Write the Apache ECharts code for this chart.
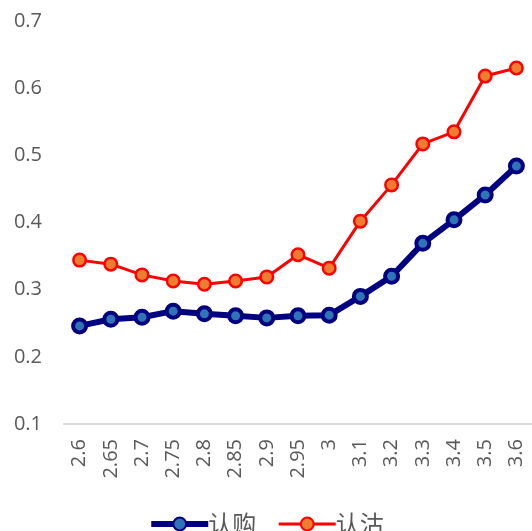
<!DOCTYPE html>
<html><head><meta charset="utf-8">
<script src="https://cdn.jsdelivr.net/npm/echarts@6/dist/echarts.min.js"></script>
<style>html,body{margin:0;padding:0;background:#fff}#c{width:532px;height:531px}</style>
</head><body><div id="c"></div>
<script>
var categories = ['2.6','2.65','2.7','2.75','2.8','2.85','2.9','2.95','3','3.1','3.2','3.3','3.4','3.5','3.6'];
var callValues = [0.246,0.256,0.259,0.268,0.264,0.261,0.258,0.261,0.262,0.290,0.320,0.369,0.404,0.441,0.484];
var putValues  = [0.344,0.338,0.322,0.313,0.308,0.313,0.319,0.352,0.332,0.402,0.456,0.517,0.535,0.618,0.630];
var seriesNames = ['认购','认沽'];

var chart = echarts.init(document.getElementById('c'));
chart.setOption({
  animation: false,
  backgroundColor: '#fff',
  grid: {left: 64, right: 0, top: 21, bottom: 107, containLabel: false},
  legend: {
    top: 512, left: 'center', padding: 0,
    itemWidth: 57, itemHeight: 16, itemGap: 21,
    textStyle: {fontSize: 24, lineHeight: 8, color: '#595959', fontFamily: 'Noto Sans CJK SC', padding: [0,0,6,-5]},
    data: [
      {name: seriesNames[0], lineStyle: {width: 6}},
      {name: seriesNames[1], lineStyle: {width: 3}}
    ]
  },
  xAxis: {
    type: 'category', data: categories, boundaryGap: true,
    axisLine: {lineStyle: {color: '#d9d9d9', width: 2}},
    axisTick: {show: false},
    axisLabel: {rotate: 90, fontSize: 20, color: '#595959', margin: 15, fontFamily: 'Open Sans', interval: 0}
  },
  yAxis: {
    type: 'value', min: 0.1, max: 0.7, interval: 0.1,
    axisLine: {show: false}, axisTick: {show: false}, splitLine: {show: false},
    axisLabel: {fontSize: 20, color: '#595959', margin: 22, fontFamily: 'Open Sans',
      formatter: function(v){ return (Math.round(v*10)/10).toString(); }}
  },
  series: [
    {name: seriesNames[0], type: 'line', data: callValues, symbol: 'circle', symbolSize: 13,
     lineStyle: {color: '#000080', width: 6}, itemStyle: {color: '#2E75B6', borderColor: '#000080', borderWidth: 4}, z: 3},
    {name: seriesNames[1], type: 'line', data: putValues, symbol: 'circle', symbolSize: 12.5,
     lineStyle: {color: '#FF0000', width: 3}, itemStyle: {color: '#ED7D31', borderColor: '#FF0000', borderWidth: 2.5}, z: 2}
  ]
});
</script></body></html>
